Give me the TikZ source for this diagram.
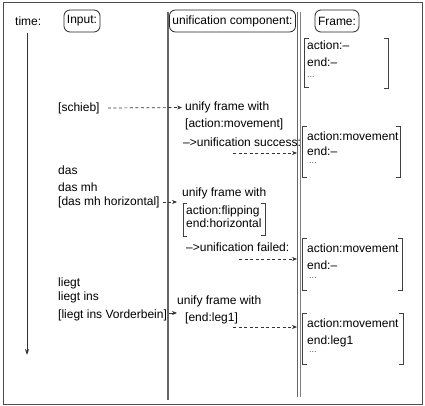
\documentclass[tikz,border=0pt]{standalone}
\usepackage{fontspec}
\setmainfont{Liberation Sans}
\usetikzlibrary{arrows.meta}
\begin{document}
\begin{tikzpicture}[x=1pt,y=-1pt,
  txt/.style={anchor=west,inner sep=0pt,font=\fontsize{12}{14}\selectfont},
  dots/.style={anchor=west,inner sep=0pt,text=black!65,font=\fontsize{9}{10}\selectfont},
  hdr/.style={draw=black!85,rounded corners=6pt,line width=0.8pt,inner xsep=3pt,inner ysep=0pt,minimum height=22pt,font=\fontsize{12}{14}\selectfont},
  col/.style={draw=black!60,line width=1.3pt},
  brk/.style={draw=black!75,line width=0.9pt},
  dasharrow/.style={draw=black!80,line width=0.7pt,dash pattern=on 3pt off 2.5pt,-{Stealth[length=5pt,width=4pt]}},
  solidarrow/.style={draw=black!80,line width=0.7pt,-{Stealth[length=5pt,width=4pt]}}
]
\useasboundingbox (0,0) rectangle (425,406);
\draw[black!70,line width=0.9pt] (3,2.5) rectangle (422,404);

% columns
\draw[col] (168,12) -- (168,400);
\draw[col] (297.5,12) -- (297.5,397);
\draw[draw=black!50,line width=0.6pt] (300,12) -- (300,397);

% headers
\node[txt] (time) at (15,21) {time:};
\node[hdr] (input) at (82,21) {Input:};
\node[hdr] (uc) at (232.5,21) {unification component:};
\node[hdr] (frame) at (337,21) {Frame:};

% time arrow
\coordinate (t0) at (27,33);
\coordinate (t1) at (27,355);
\draw[black!80,line width=0.9pt,-{Stealth[length=6pt,width=4pt]}] (t0) -- (t1);

% Frame 1
\draw[brk] (309,38) -- (304.5,38) -- (304.5,87) -- (309,87);
\draw[brk] (383.5,38) -- (388,38) -- (388,88) -- (383.5,88);
\node[txt] (f1a) at (307,45) {action:\textendash};
\node[txt] (f1b) at (307,62) {end:\textendash};
\node[dots] (f1c) at (307,77) {...};

% Frame 2
\draw[brk] (307,126) -- (302.5,126) -- (302.5,177) -- (307,177);
\draw[brk] (396,126) -- (400,126) -- (400,177) -- (396,177);
\node[txt] (f2a) at (307,136) {action:movement};
\node[txt] (f2b) at (307,151) {end:\textendash};
\node[dots] (f2c) at (309,163) {...};

% Frame 3
\draw[brk] (307,238) -- (302.5,238) -- (302.5,290) -- (307,290);
\draw[brk] (398,238) -- (402,238) -- (402,290) -- (398,290);
\node[txt] (f3a) at (307,248) {action:movement};
\node[txt] (f3b) at (307,265.5) {end:\textendash};
\node[dots] (f3c) at (309,278) {...};

% Frame 4
\draw[brk] (307,313) -- (302.5,313) -- (302.5,364) -- (307,364);
\draw[brk] (398.5,313) -- (403,313) -- (403,364) -- (398.5,364);
\node[txt] (f4a) at (307,323) {action:movement};
\node[txt] (f4b) at (307,341) {end:leg1};
\node[dots] (f4c) at (309,352) {...};

% step 1
\node[txt] (schieb) at (58,108) {[schieb]};
\node[txt] (u1) at (185,107.5) {unify frame with};
\node[txt] (u1b) at (185,124) {[action:movement]};
\node[txt] (s1) at (183,142) {\textendash>unification success:};
\draw[dasharrow] ([xshift=8pt]schieb.east) -- ([xshift=-3pt]u1.west);
\coordinate (a1s) at (233,153);
\coordinate (a1e) at (297,153);
\draw[dasharrow] (a1s) -- (a1e);

% step 2
\node[txt] (das1) at (58,170) {das};
\node[txt] (das2) at (58,187) {das mh};
\node[txt] (das3) at (58,202) {[das mh horizontal]};
\node[txt] (u2) at (182,193) {unify frame with};
\draw[brk] (187,203) -- (183,203) -- (183,236) -- (187,236);
\draw[brk] (261,203) -- (265,203) -- (265,235) -- (261,235);
\node[txt] (u2a) at (186,211) {action:flipping};
\node[txt] (u2b) at (186,223.5) {end:horizontal};
\node[txt] (s2) at (186,247) {\textendash>unification failed:};
\coordinate (a2s) at ([xshift=3pt]das3.east);
\coordinate (a2e) at (177,202);
\draw[dasharrow] (a2s) -- (a2e);
\coordinate (a3s) at (239,259);
\coordinate (a3e) at (297,259);
\draw[dasharrow] (a3s) -- (a3e);

% step 3
\node[txt] (l1) at (58,283) {liegt};
\node[txt] (l2) at (58,297.5) {liegt ins};
\node[txt] (l3) at (58,315) {[liegt ins Vorderbein]};
\node[txt] (u3) at (177,301) {unify frame with};
\node[txt] (u3b) at (185,318) {[end:leg1]};
\coordinate (a4s) at (169,313);
\coordinate (a4e) at (177,313);
\draw[solidarrow] (a4s) -- (a4e);
\coordinate (a5s) at (233,327);
\coordinate (a5e) at (297,327);
\draw[dasharrow] (a5s) -- (a5e);
\end{tikzpicture}
\end{document}
